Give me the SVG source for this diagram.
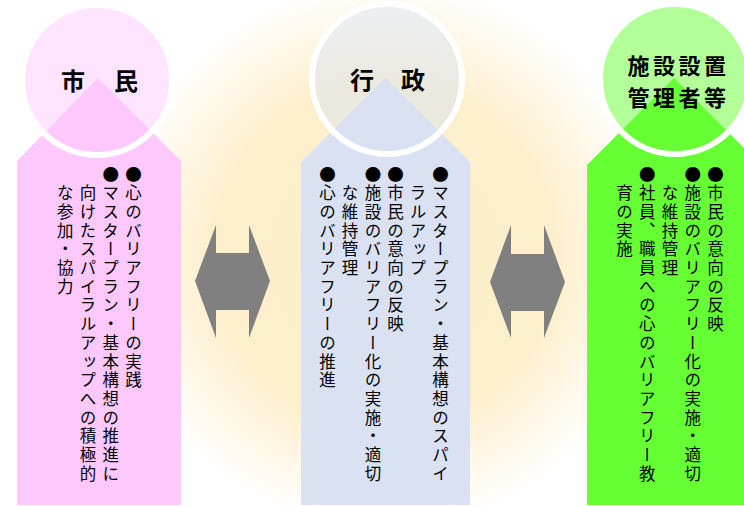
<svg xmlns="http://www.w3.org/2000/svg" width="744" height="506" viewBox="0 0 744 506">
<defs>
<radialGradient id="bg" gradientUnits="userSpaceOnUse" cx="385" cy="255" r="275">
<stop offset="0" stop-color="#fdeec8"/>
<stop offset="0.62" stop-color="#fdefcc"/>
<stop offset="1" stop-color="#ffffff"/>
</radialGradient>
</defs>
<style>
.ring{stroke:#ffffff;stroke-width:6;fill-opacity:0.5}
.title{font-family:"Noto Sans CJK JP","Noto Sans CJK SC",sans-serif;font-weight:bold;font-size:24px;fill:#000}
.t2{font-size:22px;letter-spacing:3.5px}
.v{font-family:"Noto Sans CJK JP","Noto Sans CJK SC",sans-serif;font-size:16.5px;letter-spacing:2.2px;fill:#000;writing-mode:vertical-rl}
.arrow{fill:#808080}
</style>
<rect x="0" y="0" width="744" height="506" fill="#ffffff"/>
<rect x="0" y="0" width="744" height="506" fill="url(#bg)"/>

<g id="shimin">
<polygon points="98,78 181,161 181,505 17,505 17,161" fill="#fdc9fd"/>
<circle class="ring" cx="97" cy="80" r="75" fill="#fdc9fd"/>
<text class="title" y="90"><tspan x="61">市</tspan><tspan x="114">民</tspan></text>
<text class="v" x="133.5" y="166">●心のバリアフリーの実践</text>
<text class="v" x="110.8" y="166">●マスタープラン・基本構想の推進に</text>
<text class="v" x="88" y="184.7">向けたスパイラルアップへの積極的</text>
<text class="v" x="65.3" y="184.7">な参加・協力</text>
</g>

<g id="gyosei">
<polygon points="385.5,78 470,162 470,505 301,505 301,162" fill="#d9e1f2"/>
<circle class="ring" cx="387" cy="79" r="75" fill="#d9e1f2"/>
<text class="title" y="89"><tspan x="350">行</tspan><tspan x="401">政</tspan></text>
<text class="v" x="440.5" y="166">●マスタープラン・基本構想のスパイ</text>
<text class="v" x="418" y="184.7">ラルアップ</text>
<text class="v" x="395.5" y="166">●市民の意向の反映</text>
<text class="v" x="373" y="166">●施設のバリアフリー化の実施・適切</text>
<text class="v" x="350" y="184.7">な維持管理</text>
<text class="v" x="327.5" y="166">●心のバリアフリーの推進</text>
</g>

<g id="kanrisha">
<polygon points="674,78 761,165 761,505 587,505 587,165" fill="#66ff33"/>
<circle class="ring" cx="675" cy="79" r="75" fill="#66ff33"/>
<text class="title t2" x="678.5" y="74" text-anchor="middle">施設設置</text>
<text class="title t2" x="678.5" y="106" text-anchor="middle">管理者等</text>
<text class="v" x="715.5" y="166">●市民の意向の反映</text>
<text class="v" x="692.8" y="166">●施設のバリアフリー化の実施・適切</text>
<text class="v" x="670" y="184.7">な維持管理</text>
<text class="v" x="647.3" y="166">●社員、職員への心のバリアフリー教</text>
<text class="v" x="624.6" y="184.7">育の実施</text>
</g>

<g id="connectors">
<polygon class="arrow" points="195,281 216,225 216,253 249,253 249,225 270,281 249,338 249,310 216,310 216,338"/>
<polygon class="arrow" points="490,282 511,225 511,254 544,254 544,225 565,282 544,338 544,311 511,311 511,338"/>
</g>
</svg>
